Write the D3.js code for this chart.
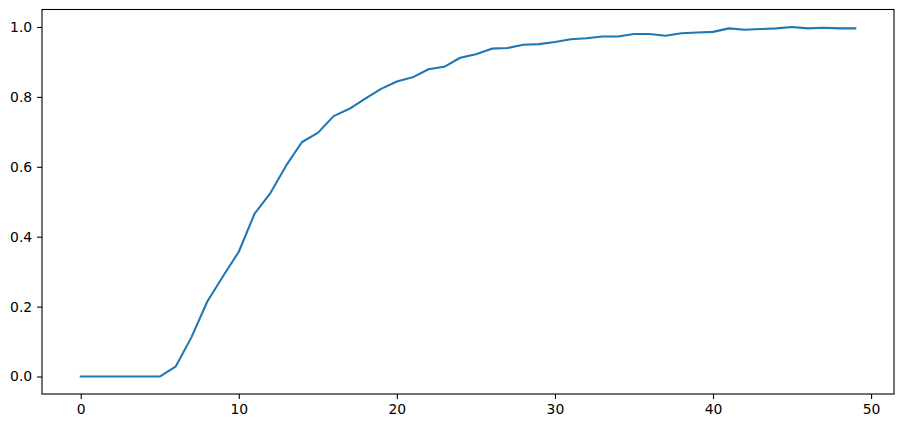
<!DOCTYPE html>
<html>
<head>
<meta charset="utf-8">
<script src="https://cdn.jsdelivr.net/npm/d3@7"></script>
<style>
html,body{margin:0;padding:0;background:#fff;}
svg{display:block;}
</style>
</head>
<body>
<script>
const xValues = d3.range(0, 50);
const yValues = [0,0,0,0,0,0,0.028,0.112,0.214,0.287,
  0.357,0.466,0.525,0.604,0.671,0.697,0.745,0.766,0.795,0.823,
  0.844,0.856,0.879,0.886,0.912,0.922,0.938,0.940,0.949,0.951,
  0.957,0.965,0.968,0.973,0.973,0.980,0.980,0.975,0.982,0.984,
  0.986,0.996,0.992,0.994,0.996,1.0,0.996,0.998,0.996,0.996];
const xTicks = [0,10,20,30,40,50];
const yTicks = [0,0.2,0.4,0.6,0.8,1.0];

const W = 904, H = 428;
const L = 42, R = 894, T = 9.5, B = 394;
const svg = d3.select("body").append("svg").attr("width", W).attr("height", H);

const xmin = d3.min(xValues), xmax = d3.max(xValues);
const ymin = d3.min(yValues), ymax = d3.max(yValues);
const xm = (xmax - xmin) * 0.05, ym = (ymax - ymin) * 0.05;
const x = d3.scaleLinear().domain([xmin - xm, xmax + xm]).range([L, R]);
const y = d3.scaleLinear().domain([ymin - ym, ymax + ym]).range([B, T]);

const font = "'DejaVu Sans', sans-serif";

const xAxis = svg.append("g").attr("transform", `translate(0,${B})`)
  .call(d3.axisBottom(x).tickValues(xTicks).tickFormat(d3.format("d")).tickSizeInner(4.9).tickSizeOuter(0).tickPadding(4.9));
const yAxis = svg.append("g").attr("transform", `translate(${L},0)`)
  .call(d3.axisLeft(y).tickValues(yTicks).tickFormat(d3.format(".1f")).tickSizeInner(4.9).tickSizeOuter(0).tickPadding(4.9));
[xAxis, yAxis].forEach(g => {
  g.select(".domain").remove();
  g.selectAll(".tick line").attr("stroke", "#000").attr("stroke-width", 1.1);
  g.selectAll(".tick text").attr("fill", "#000").style("font-family", font).style("font-size", "13.9px");
});

svg.append("path")
  .datum(xValues.map((d, i) => [d, yValues[i]]))
  .attr("fill", "none")
  .attr("stroke", "#1f77b4")
  .attr("stroke-width", 2.08)
  .attr("stroke-linejoin", "round")
  .attr("stroke-linecap", "square")
  .attr("d", d3.line().x(d => x(d[0])).y(d => y(d[1])));

svg.append("rect").attr("x", L).attr("y", T).attr("width", R - L).attr("height", B - T)
  .attr("fill", "none").attr("stroke", "#000").attr("stroke-width", 1.1);
</script>
</body>
</html>
